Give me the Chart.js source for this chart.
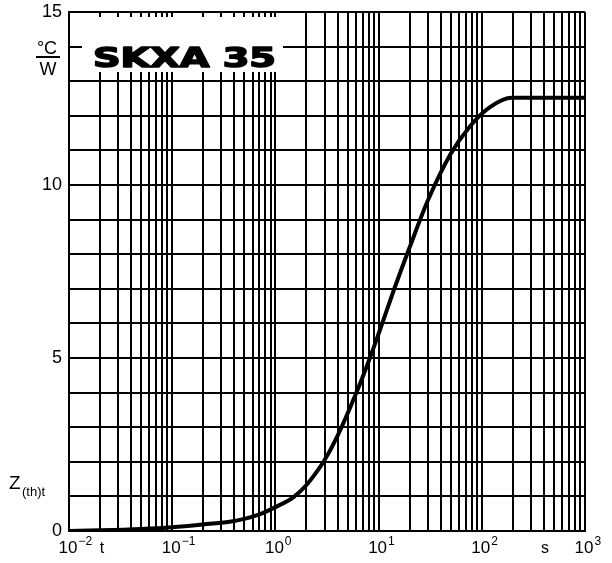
<!DOCTYPE html>
<html>
<head>
<meta charset="utf-8">
<script src="https://cdn.jsdelivr.net/npm/chart.js@4"></script>
<style>
  html, body { margin: 0; padding: 0; background: #fff; }
  #wrap { width: 612px; height: 563px; }
</style>
</head>
<body>
<div id="wrap"><canvas id="zth"></canvas></div>
<script>
// transient thermal impedance
const timeS = [0.01, 0.02, 0.05, 0.1, 0.2, 0.36, 0.5, 0.7, 1, 1.5, 2, 2.5, 3, 4, 6, 8, 10, 14, 20, 30, 50, 77, 120, 195, 1000];
const zth   = [0, 0.02, 0.06, 0.11, 0.19, 0.27, 0.35, 0.48, 0.69, 0.98, 1.33, 1.7, 2.05, 2.75, 3.95, 4.9, 5.7, 6.95, 8.2, 9.55, 10.9, 11.7, 12.25, 12.52, 12.52];

const xDecades = [0.01, 0.1, 1, 10, 100, 1000];
const xExponents = ['-2', '-1', '0', '1', '2', '3'];
const yLabels = [0, 5, 10, 15];

// grid lines at 1..9 of every decade
const xGrid = [];
xDecades.slice(0, -1).forEach(d => {
    for (let k = 1; k <= 9; k++) xGrid.push(+(d * k).toPrecision(3));
});
xGrid.push(1000);

const annotations = {
    id: 'annotations',
    afterDraw(chart) {
        const ctx = chart.ctx;
        const x = chart.scales.x;
        const top = chart.chartArea.top;
        ctx.save();
        ctx.fillStyle = '#000';

        // x tick labels with exponents
        ctx.textBaseline = 'alphabetic';
        xDecades.forEach((v, i) => {
            const px = x.getPixelForValue(v);
            ctx.font = '17px "Liberation Sans", Arial, sans-serif';
            ctx.textAlign = 'center';
            ctx.fillText('10', px - 1, 553);
            const w = ctx.measureText('10').width;
            ctx.font = '12px "Liberation Sans", Arial, sans-serif';
            ctx.textAlign = 'left';
            ctx.fillText(xExponents[i].replace('-', '\u2212'), px - 1 + w / 2 + 1, 545);
        });
        ctx.font = '16px "Liberation Sans", Arial, sans-serif';
        ctx.textAlign = 'center';
        ctx.fillText('t', x.getPixelForValue(0.01) + 33, 553);
        ctx.fillText('s', x.getPixelForValue(1000) - 40, 553);

        // unit fraction
        ctx.font = '18px "Liberation Sans", Arial, sans-serif';
        ctx.fillText('\u00B0C', 47, top + 42);
        ctx.fillRect(36, top + 44, 24, 2);
        ctx.fillText('W', 48, top + 63);

        // Z(th)t
        ctx.textAlign = 'left';
        ctx.font = '19px "Liberation Sans", Arial, sans-serif';
        ctx.fillText('Z', 9, 489);
        ctx.font = '13px "Liberation Sans", Arial, sans-serif';
        ctx.fillText('(th)t', 22, 496);

        // type label box
        ctx.fillStyle = '#fff';
        ctx.fillRect(82, top + 5, 201, 55);
        ctx.fillStyle = '#000';
        ctx.strokeStyle = '#000';
        ctx.lineWidth = 1.6;
        ctx.lineJoin = 'round';
        ctx.font = 'bold 27px "DejaVu Sans", sans-serif';
        const tw = ctx.measureText('SKXA 35').width;
        ctx.translate(93, top + 55);
        ctx.scale(183 / tw, 1);
        ctx.fillText('SKXA 35', 0, 0);
        ctx.strokeText('SKXA 35', 0, 0);
        ctx.restore();
    }
};

new Chart(document.getElementById('zth'), {
    type: 'line',
    data: {
        datasets: [{
            data: timeS.map((t, i) => ({ x: t, y: zth[i] })),
            borderColor: '#000',
            borderWidth: 4,
            pointRadius: 0,
            cubicInterpolationMode: 'monotone',
            fill: false
        }]
    },
    options: {
        responsive: true,
        maintainAspectRatio: false,
        animation: false,
        layout: { padding: { top: 12, right: 27, left: 0, bottom: 0 } },
        plugins: { legend: { display: false }, tooltip: { enabled: false } },
        scales: {
            x: {
                type: 'logarithmic',
                min: 0.01,
                max: 1000,
                afterBuildTicks: s => { s.ticks = xGrid.map(v => ({ value: v })); },
                afterFit: s => { s.height = 32; s.paddingLeft = 0; s.paddingRight = 0; },
                ticks: { display: false },
                grid: { color: '#000', lineWidth: 2, drawTicks: false },
                border: { color: '#000', width: 2 }
            },
            y: {
                min: 0,
                max: 15,
                afterFit: s => { s.width = 69; s.paddingTop = 0; s.paddingBottom = 0; },
                ticks: {
                    stepSize: 1,
                    color: '#000',
                    padding: 7,
                    font: { family: '"Liberation Sans", Arial, sans-serif', size: 18 },
                    callback: v => yLabels.includes(v) ? String(v) : ''
                },
                grid: { color: '#000', lineWidth: 2, drawTicks: false },
                border: { color: '#000', width: 2 }
            }
        }
    },
    plugins: [annotations]
});
</script>
</body>
</html>
